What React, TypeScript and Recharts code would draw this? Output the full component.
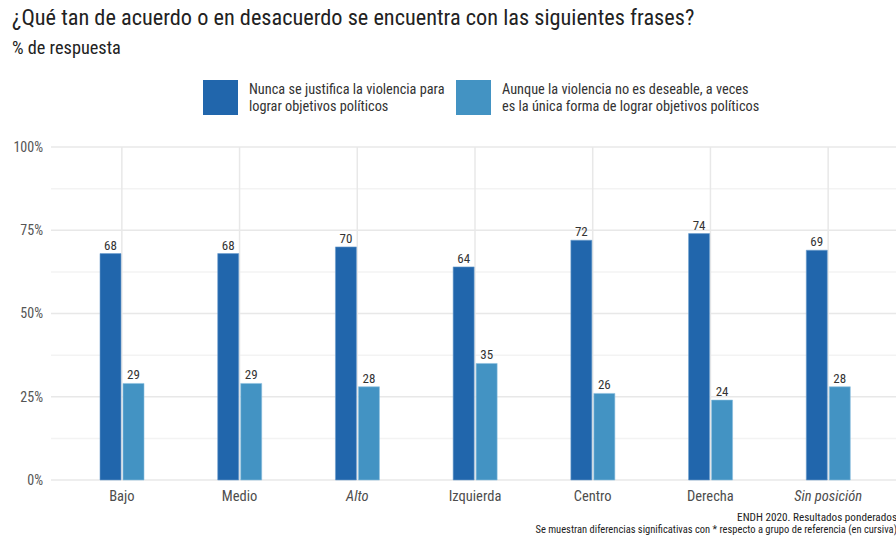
import { Bar, BarChart, CartesianGrid, LabelList, XAxis, YAxis } from 'recharts';

const categories = ['Bajo', 'Medio', 'Alto', 'Izquierda', 'Centro', 'Derecha', 'Sin posición'];
const nuncaJustifica = [68, 68, 70, 64, 72, 74, 69];
const aVecesUnica = [29, 29, 28, 35, 26, 24, 28];
const referenceGroups = ['Alto', 'Sin posición'];
const yTicks = [0, 25, 50, 75, 100];
const yMinorTicks = [12.5, 37.5, 62.5, 87.5];

const seriesNames = [
    ['Nunca se justifica la violencia para', 'lograr objetivos políticos'],
    ['Aunque la violencia no es deseable, a veces', 'es la única forma de lograr objetivos políticos'],
];

const DARK = '#2166ac';
const LIGHT = '#4393c3';
const FONT = '"Roboto Condensed", "Liberation Sans Narrow", "DejaVu Sans Condensed", Roboto, sans-serif';

const data = categories.map((cat, i) => ({
    grupo: cat,
    nunca: nuncaJustifica[i],
    aveces: aVecesUnica[i],
}));

function CategoryTick({ x, y, payload }: any) {
    const italic = referenceGroups.includes(payload.value);
    return (
        <text
            x={x}
            y={y + 13}
            textAnchor="middle"
            fill="#4d4d4d"
            fontSize={14.5}
            fontStyle={italic ? 'italic' : 'normal'}
        >
            {payload.value}
        </text>
    );
}

function LegendItem({ color, lines, left }: { color: string; lines: string[]; left: number }) {
    return (
        <div style={{ position: 'absolute', left, top: 80, display: 'flex', alignItems: 'center' }}>
            <div style={{ width: 35, height: 35, background: color }} />
            <div style={{ marginLeft: 11, fontSize: 14.3, lineHeight: '17px', color: '#333' }}>
                {lines.map((l) => (
                    <div key={l}>{l}</div>
                ))}
            </div>
        </div>
    );
}

export default function App() {
    return (
        <div
            style={{
                position: 'absolute',
                left: 0,
                top: 0,
                width: 896,
                height: 536,
                overflow: 'hidden',
                background: '#fff',
                fontFamily: FONT,
            }}
        >
            <div style={{ position: 'absolute', left: 12, top: 4, fontSize: 22.3, color: '#222' }}>
                ¿Qué tan de acuerdo o en desacuerdo se encuentra con las siguientes frases?
            </div>
            <div style={{ position: 'absolute', left: 12, top: 37, fontSize: 18.3, color: '#222' }}>
                % de respuesta
            </div>
            <LegendItem color={DARK} lines={seriesNames[0]} left={203} />
            <LegendItem color={LIGHT} lines={seriesNames[1]} left={456} />

            <BarChart
                width={900}
                height={536}
                data={data}
                margin={{ top: 147, right: 1, left: 0, bottom: 26 }}
                barSize={21}
                barGap={2}
            >
                <CartesianGrid
                    horizontalValues={yMinorTicks}
                    vertical={false}
                    syncWithTicks
                    stroke="#f3f3f3"
                    strokeWidth={1.5}
                />
                <CartesianGrid
                    horizontalValues={yTicks}
                    verticalValues={categories}
                    syncWithTicks
                    stroke="#e8e8e8"
                    strokeWidth={1.5}
                />
                <XAxis
                    dataKey="grupo"
                    axisLine={false}
                    tickLine={false}
                    height={30}
                    padding={{ left: 12, right: 12 }}
                    tick={<CategoryTick />}
                    interval={0}
                />
                <YAxis
                    domain={[0, 100]}
                    ticks={yTicks}
                    width={51}
                    axisLine={false}
                    tickLine={false}
                    tickFormatter={(v) => `${v}%`}
                    tick={{ fill: '#555', fontSize: 14 }}
                />
                <Bar dataKey="nunca" fill={DARK} stroke="#6e9fcf" strokeWidth={0.6} isAnimationActive={false}>
                    <LabelList dataKey="nunca" position="top" offset={4} fill="#333" fontSize={13} />
                </Bar>
                <Bar dataKey="aveces" fill={LIGHT} stroke="#8cbfdf" strokeWidth={0.6} isAnimationActive={false}>
                    <LabelList dataKey="aveces" position="top" offset={4} fill="#333" fontSize={13} />
                </Bar>
            </BarChart>

            <div
                style={{
                    position: 'absolute',
                    right: -1,
                    top: 512,
                    fontSize: 10.5,
                    lineHeight: '12px',
                    color: '#222',
                    textAlign: 'right',
                    whiteSpace: 'nowrap',
                }}
            >
                <div style={{ fontSize: 11.2 }}>ENDH 2020. Resultados ponderados</div>
                <div>Se muestran diferencias significativas con * respecto a grupo de referencia (en cursiva)</div>
            </div>
        </div>
    );
}
